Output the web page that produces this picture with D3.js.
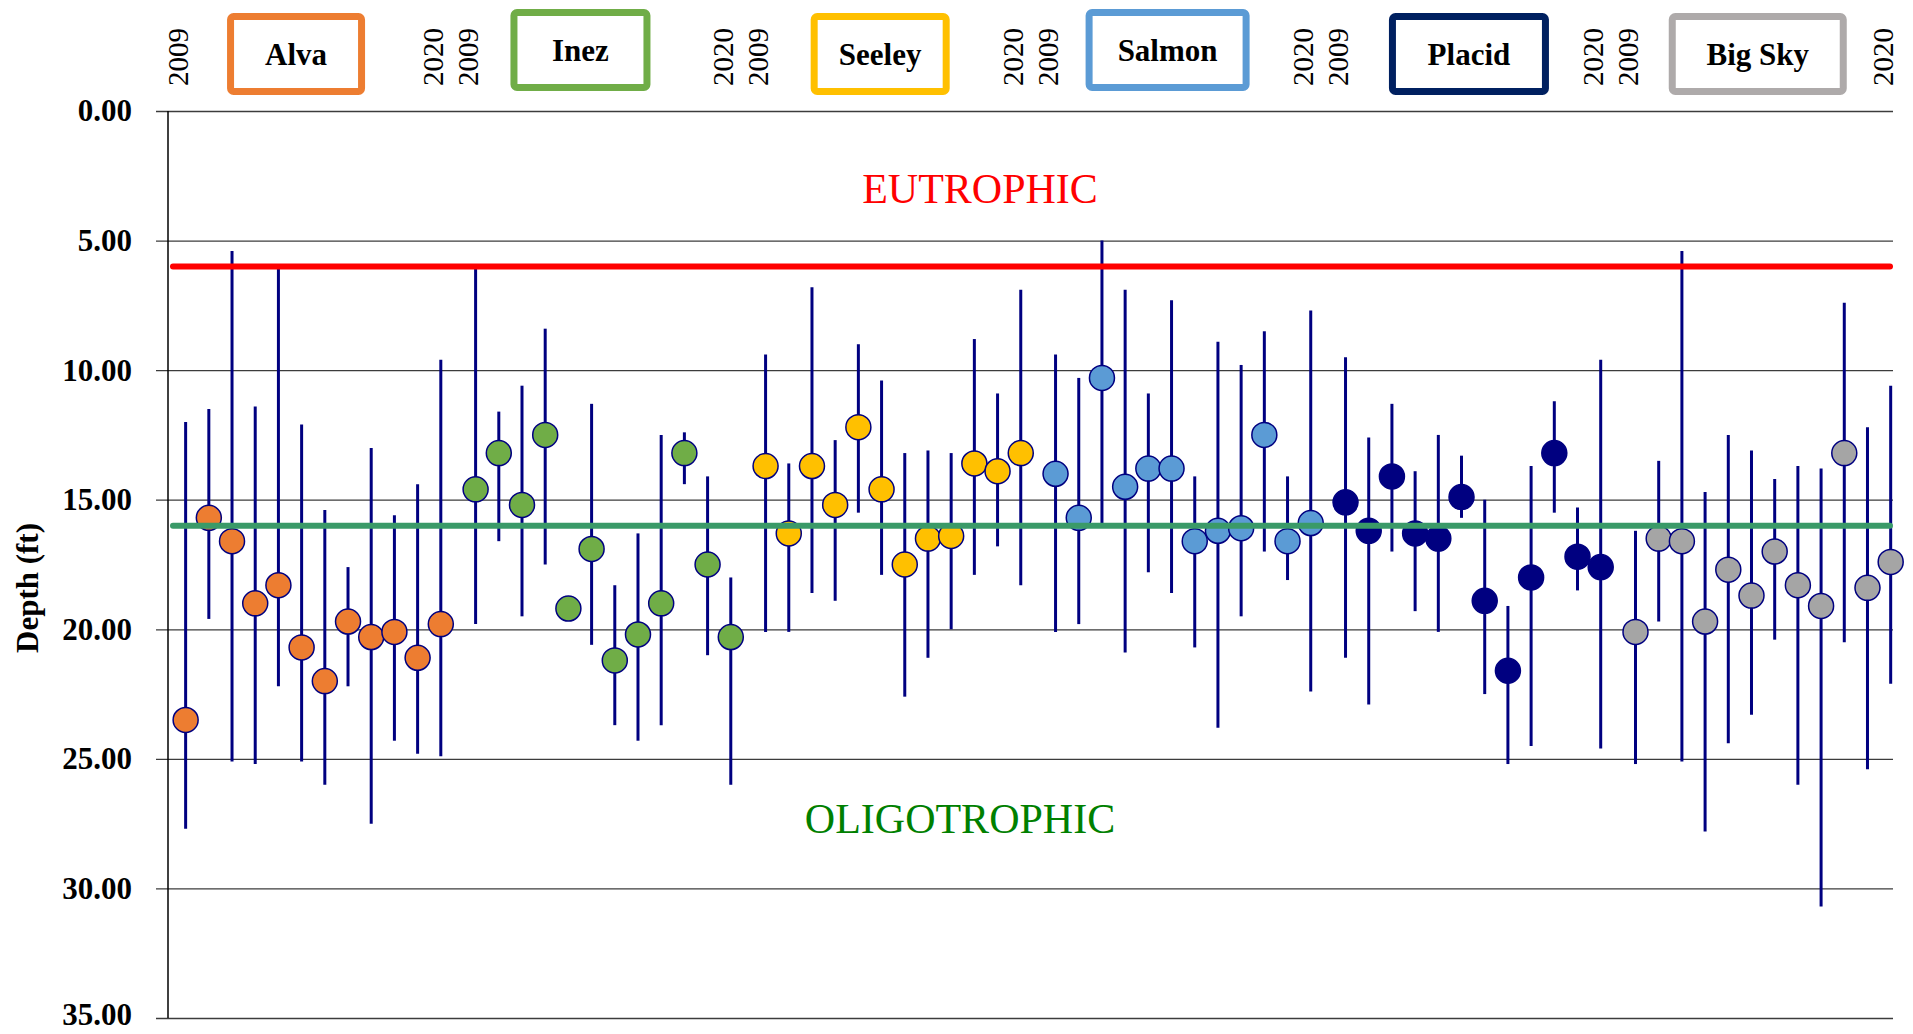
<!DOCTYPE html>
<html>
<head>
<meta charset="utf-8">
<script src="https://cdn.jsdelivr.net/npm/d3@7"></script>
<style>
  html, body { margin: 0; padding: 0; background: #fff; }
  svg { display: block; }
</style>
</head>
<body>
<svg id="chart" width="1913" height="1034"></svg>
<script>
// ---------------- DATA ----------------
const lakes = ["Alva", "Inez", "Seeley", "Salmon", "Placid", "Big Sky"];
const lakeFill = ["#ED7D31", "#70AD47", "#FFC000", "#5B9BD5", "#000080", "#A5A5A5"];
const lakeBorder = ["#ED7D31", "#70AD47", "#FFC000", "#5B9BD5", "#002060", "#AEAAAA"];
const years = [2009, 2010, 2011, 2012, 2013, 2014, 2015, 2016, 2017, 2018, 2019, 2020];
const yearTickLabels = ["2009", "2020"];
const yTicks = [0, 5, 10, 15, 20, 25, 30, 35];
const eutrophicDepth = 6;
const oligotrophicDepth = 16;

// mean Secchi depth (ft) and min / max range per year
const alvaMean = [23.5, 15.7, 16.6, 19.0, 18.3, 20.7, 22.0, 19.7, 20.3, 20.1, 21.1, 19.8];
const alvaMin  = [12.0, 11.5, 5.4, 11.4, 6.1, 12.1, 15.4, 17.6, 13.0, 15.6, 14.4, 9.6];
const alvaMax  = [27.7, 19.6, 25.1, 25.2, 22.2, 25.1, 26.0, 22.2, 27.5, 24.3, 24.8, 24.9];

const inezMean = [14.6, 13.2, 15.2, 12.5, 19.2, 16.9, 21.2, 20.2, 19.0, 13.2, 17.5, 20.3];
const inezMin  = [6.1, 11.6, 10.6, 8.4, null, 11.3, 18.3, 16.3, 12.5, 12.4, 14.1, 18.0];
const inezMax  = [19.8, 16.6, 19.5, 17.5, null, 20.6, 23.7, 24.3, 23.7, 14.4, 21.0, 26.0];

const seeleyMean = [13.7, 16.3, 13.7, 15.2, 12.2, 14.6, 17.5, 16.5, 16.4, 13.6, 13.9, 13.2];
const seeleyMin  = [9.4, 13.6, 6.8, 12.7, 9.0, 10.4, 13.2, 13.1, 13.2, 8.8, 10.9, 6.9];
const seeleyMax  = [20.1, 20.1, 18.6, 18.9, 15.5, 17.9, 22.6, 21.1, 20.0, 17.9, 16.8, 18.3];

const salmonMean = [14.0, 15.7, 10.3, 14.5, 13.8, 13.8, 16.6, 16.2, 16.1, 12.5, 16.6, 15.9];
const salmonMin  = [9.4, 10.3, 5.0, 6.9, 10.9, 7.3, 14.1, 8.9, 9.8, 8.5, 14.1, 7.7];
const salmonMax  = [20.1, 19.8, 16.0, 20.9, 17.8, 18.6, 20.7, 23.8, 19.5, 17.0, 18.1, 22.4];

const placidMean = [15.1, 16.2, 14.1, 16.3, 16.5, 14.9, 18.9, 21.6, 18.0, 13.2, 17.2, 17.6];
const placidMin  = [9.5, 12.6, 11.3, 13.9, 12.5, 13.3, 15.0, 19.1, 13.7, 11.2, 15.3, 9.6];
const placidMax  = [21.1, 22.9, 17.0, 19.3, 20.1, 15.7, 22.5, 25.2, 24.5, 15.5, 18.5, 24.6];

const bigSkyMean = [20.1, 16.5, 16.6, 19.7, 17.7, 18.7, 17.0, 18.3, 19.1, 13.2, 18.4, 17.4];
const bigSkyMin  = [16.2, 13.5, 5.4, 14.7, 12.5, 13.1, 14.2, 13.7, 13.8, 7.4, 12.2, 10.6];
const bigSkyMax  = [25.2, 19.7, 25.1, 27.8, 24.4, 23.3, 20.4, 26.0, 30.7, 20.5, 25.4, 22.1];

const seriesMean = [alvaMean, inezMean, seeleyMean, salmonMean, placidMean, bigSkyMean];
const seriesMin  = [alvaMin, inezMin, seeleyMin, salmonMin, placidMin, bigSkyMin];
const seriesMax  = [alvaMax, inezMax, seeleyMax, salmonMax, placidMax, bigSkyMax];

// ---------------- LAYOUT ----------------
const blockStep = 12.5;           // slots between lake blocks
const plotLeft = 168, plotRight = 1893, plotTop = 111, plotBottom = 1018;
const serif = "'Liberation Serif', 'Times New Roman', serif";

// legend box layout (offset in slots from block start, outer width, outer top)
const boxLayout = [
  {off: 4.76, w: 138, top: 13},
  {off: 4.52, w: 140, top: 9},
  {off: 4.94, w: 139, top: 13},
  {off: 4.83, w: 164, top: 9},
  {off: 5.32, w: 160, top: 13},
  {off: 5.27, w: 178, top: 13}
];
const boxH = 82, boxStroke = 7;

const svg = d3.select("#chart");

const x = d3.scaleLinear().domain([-0.76, 73.6]).range([plotLeft, plotRight]);
const y = d3.scaleLinear().domain([0, 35]).range([plotTop, plotBottom]);

// build point table
const points = [];
lakes.forEach((lake, b) => {
  years.forEach((yr, i) => {
    points.push({
      lake, b, i, year: yr,
      pos: b * blockStep + i,
      mean: seriesMean[b][i],
      lo: seriesMin[b][i],
      hi: seriesMax[b][i]
    });
  });
});

// gridlines + ticks (y axis)
const yAxis = d3.axisLeft(y)
  .tickValues(yTicks)
  .tickSize(plotLeft - plotRight)
  .tickFormat(d3.format(".2f"));

const gAxis = svg.append("g")
  .attr("transform", `translate(${plotLeft},0)`)
  .call(yAxis);
gAxis.select(".domain").remove();
gAxis.selectAll(".tick line")
  .attr("x1", -12)
  .attr("stroke", "#3c3c3c")
  .attr("stroke-width", 1.3);
gAxis.selectAll(".tick text")
  .attr("x", -36)
  .attr("dy", d => d === 35 ? "0.22em" : "0.32em")
  .attr("font-family", serif)
  .attr("font-weight", "bold")
  .attr("font-size", 31)
  .attr("fill", "#000");

// vertical axis line
svg.append("line")
  .attr("x1", plotLeft).attr("x2", plotLeft)
  .attr("y1", y(0)).attr("y2", y(35))
  .attr("stroke", "#000").attr("stroke-width", 1.5);

// y-axis title
svg.append("text")
  .attr("transform", `translate(38,588) rotate(-90)`)
  .attr("text-anchor", "middle")
  .attr("font-family", serif)
  .attr("font-weight", "bold")
  .attr("font-size", 31)
  .text("Depth (ft)");

// error bars
svg.append("g").selectAll("line")
  .data(points.filter(d => d.lo != null && d.hi != null))
  .join("line")
  .attr("x1", d => x(d.pos)).attr("x2", d => x(d.pos))
  .attr("y1", d => y(d.lo)).attr("y2", d => y(d.hi))
  .attr("stroke", "#000080")
  .attr("stroke-width", 3);

// points
svg.append("g").selectAll("circle")
  .data(points)
  .join("circle")
  .attr("cx", d => x(d.pos))
  .attr("cy", d => y(d.mean))
  .attr("r", 12.5)
  .attr("fill", d => lakeFill[d.b])
  .attr("stroke", "#000080")
  .attr("stroke-width", 1.5);

// trophic threshold lines
svg.append("line")
  .attr("x1", plotLeft + 5).attr("x2", plotRight - 3)
  .attr("y1", y(eutrophicDepth)).attr("y2", y(eutrophicDepth))
  .attr("stroke", "#FF0000").attr("stroke-width", 6)
  .attr("stroke-linecap", "round");
svg.append("line")
  .attr("x1", plotLeft + 5).attr("x2", plotRight - 3)
  .attr("y1", y(oligotrophicDepth)).attr("y2", y(oligotrophicDepth))
  .attr("stroke", "#3A9A68").attr("stroke-width", 6)
  .attr("stroke-linecap", "round");

// zone labels
svg.append("text")
  .attr("x", 980).attr("y", 203)
  .attr("text-anchor", "middle")
  .attr("font-family", serif).attr("font-size", 42)
  .attr("fill", "#FF0000")
  .text("EUTROPHIC");
svg.append("text")
  .attr("x", 960).attr("y", 833)
  .attr("text-anchor", "middle")
  .attr("font-family", serif).attr("font-size", 42)
  .attr("fill", "#008000")
  .text("OLIGOTROPHIC");

// top year labels (first and last year of each lake block)
const yearLabelData = [];
lakes.forEach((lake, b) => {
  yearLabelData.push({pos: b * blockStep + 0, t: yearTickLabels[0]});
  yearLabelData.push({pos: b * blockStep + years.length - 1, t: yearTickLabels[1]});
});
svg.append("g").selectAll("text")
  .data(yearLabelData)
  .join("text")
  .attr("transform", d => `translate(${x(d.pos) + 2},86) rotate(-90)`)
  .attr("text-anchor", "start")
  .attr("font-family", serif)
  .attr("font-size", 29)
  .attr("fill", "#000")
  .text(d => d.t);

// lake legend boxes
const boxes = svg.append("g").selectAll("g")
  .data(lakes)
  .join("g");
boxes.append("rect")
  .attr("x", (d, b) => x(b * blockStep + boxLayout[b].off) - boxLayout[b].w / 2 + boxStroke / 2)
  .attr("y", (d, b) => boxLayout[b].top + boxStroke / 2)
  .attr("width", (d, b) => boxLayout[b].w - boxStroke)
  .attr("height", boxH - boxStroke)
  .attr("rx", 3)
  .attr("fill", "#fff")
  .attr("stroke", (d, b) => lakeBorder[b])
  .attr("stroke-width", boxStroke);
boxes.append("text")
  .attr("x", (d, b) => x(b * blockStep + boxLayout[b].off))
  .attr("y", (d, b) => boxLayout[b].top + boxH / 2 + 11)
  .attr("text-anchor", "middle")
  .attr("font-family", serif)
  .attr("font-weight", "bold")
  .attr("font-size", 31)
  .attr("fill", "#000")
  .text(d => d);
</script>
</body>
</html>
